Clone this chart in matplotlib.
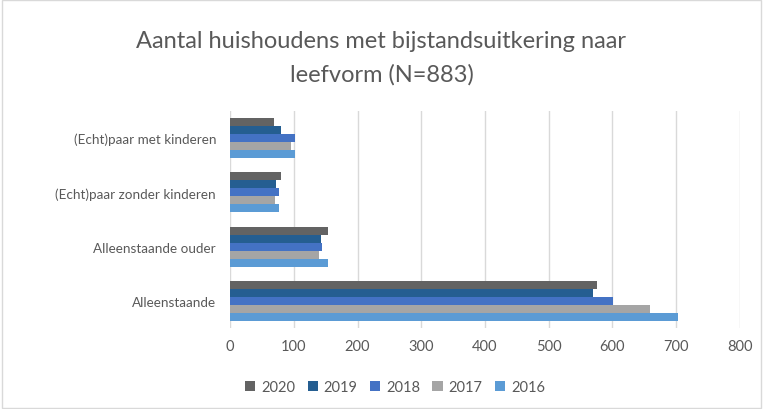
import matplotlib
matplotlib.use("Agg")
import matplotlib.pyplot as plt
import numpy as np

categories = ["Alleenstaande", "Alleenstaande ouder", "(Echt)paar zonder kinderen", "(Echt)paar met kinderen"]
years = ["2020", "2019", "2018", "2017", "2016"]
values = {
    "2020": [576, 154, 80, 69],
    "2019": [570, 143, 72, 80],
    "2018": [601, 144, 77, 102],
    "2017": [659, 140, 71, 96],
    "2016": [702, 154, 77, 102],
}
colors = {"2020": "#636363", "2019": "#255E91", "2018": "#4472C4", "2017": "#A5A5A5", "2016": "#5B9BD5"}

plt.rcParams['font.family'] = ['Lato', 'DejaVu Sans']

fig = plt.figure(figsize=(7.63, 4.10), dpi=100)
ax = fig.add_axes([230/763, 1-329/410, 510/763, 217/410])

h = 0.148
y = np.arange(len(categories))
for i, yr in enumerate(years):
    offset = (2 - i) * h
    ax.barh(y + offset, values[yr], height=h, color=colors[yr], label=yr, zorder=3)

ax.set_xlim(0, 800)
ax.set_ylim(-0.5, 3.5)
ax.set_xticks(range(0, 801, 100))
ax.set_yticks(y)
ax.set_yticklabels(categories)
ax.tick_params(axis='x', length=0, labelsize=10.5, colors='#595959', pad=8)
ax.tick_params(axis='y', length=0, labelsize=9.7, colors='#595959', pad=10)
ax.grid(axis='x', color='#D9D9D9', linewidth=1, zorder=0)
for s in ax.spines.values():
    s.set_visible(False)

fig.text(0.5, 1-42/410, "Aantal huishoudens met bijstandsuitkering naar", ha='center', va='center',
         fontsize=17, color='#595959')
fig.text(0.5, 1-75/410, "leefvorm (N=883)", ha='center', va='center', fontsize=17, color='#595959')

handles, labels = ax.get_legend_handles_labels()
fig.legend(handles, labels, loc='center', bbox_to_anchor=(395/763, 1-388/410), ncol=5, frameon=False,
           fontsize=10.5, handlelength=0.7, handleheight=0.7, handletextpad=0.4, columnspacing=0.85,
           labelcolor='#595959')

border = plt.Rectangle((0.002, 0.002), 0.996, 0.996, transform=fig.transFigure, fill=False,
                       edgecolor='#D9D9D9', linewidth=1)
fig.patches.append(border)

fig.savefig("out.png", dpi=100)
